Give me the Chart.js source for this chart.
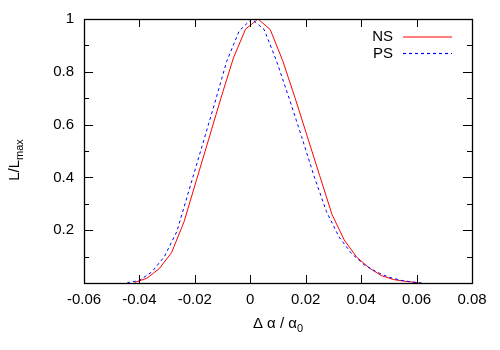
<!DOCTYPE html>
<html>
<head>
<meta charset="utf-8">
<script src="https://cdn.jsdelivr.net/npm/chart.js@4.4.0/dist/chart.umd.min.js"></script>
<style>
  html, body { margin: 0; padding: 0; background: #fff; }
</style>
</head>
<body>
<canvas id="likeChart" width="500" height="350"></canvas>
<script>
// NS run (red, solid)
const nsX = [-0.0417, -0.0373, -0.0328, -0.0284, -0.0239, -0.0195, -0.0150, -0.0106, -0.0061, -0.0017,
  0.0028, 0.0072, 0.0117, 0.0161, 0.0206, 0.0250, 0.0295, 0.0339, 0.0384, 0.0428, 0.0473, 0.0517, 0.0562, 0.0606];
const nsL = [0.002, 0.018, 0.055, 0.115, 0.232, 0.387, 0.545, 0.700, 0.852, 0.962,
  1.000, 0.960, 0.842, 0.703, 0.554, 0.408, 0.259, 0.163, 0.098, 0.058, 0.028, 0.013, 0.006, 0.001];

// PS run (blue, dashed)
const psX = [-0.0445, -0.0400, -0.0355, -0.0310, -0.0265, -0.0220, -0.0175, -0.0130, -0.0085, -0.0040,
  0.0005, 0.0050, 0.0095, 0.0140, 0.0185, 0.0230, 0.0275, 0.0320, 0.0365, 0.0410, 0.0455, 0.0500, 0.0545, 0.0590, 0.0620];
const psL = [0.000, 0.010, 0.042, 0.100, 0.195, 0.355, 0.515, 0.675, 0.840, 0.955,
  1.000, 0.960, 0.840, 0.700, 0.555, 0.405, 0.270, 0.175, 0.112, 0.070, 0.042, 0.022, 0.010, 0.003, 0.000];

const xTickValues = [-0.06, -0.04, -0.02, 0, 0.02, 0.04, 0.06, 0.08];
const xTickLabels = ['-0.06', '-0.04', '-0.02', '0', '0.02', '0.04', '0.06', '0.08'];
const yTickValues = [0, 0.1, 0.2, 0.3, 0.4, 0.5, 0.6, 0.7, 0.8, 0.9, 1];
const yTickLabels = ['', '', '0.2', '', '0.4', '', '0.6', '', '0.8', '', '1'];

const FONT = '"Liberation Sans", Arial, Helvetica, sans-serif';
const NS_COLOR = '#ff0000';
const PS_COLOR = '#0000ff';

function toPoints(xs, ys) {
  return xs.map((x, i) => ({ x, y: ys[i] }));
}

// draws the gnuplot style box, inward ticks, legend and axis titles
const gnuplotFrame = {
  id: 'gnuplotFrame',
  afterDatasetsDraw(chart) {
    const { ctx, chartArea: a, scales: { x, y } } = chart;
    ctx.save();
    ctx.strokeStyle = '#000';
    ctx.lineWidth = 1;
    ctx.beginPath();
    xTickValues.forEach(v => {
      const px = Math.round(x.getPixelForValue(v)) + 0.5;
      ctx.moveTo(px, a.bottom); ctx.lineTo(px, a.bottom - 8);
      ctx.moveTo(px, a.top); ctx.lineTo(px, a.top + 8);
    });
    yTickValues.forEach((v, i) => {
      const py = Math.round(y.getPixelForValue(v)) + 0.5;
      const len = yTickLabels[i] ? 9 : 5;
      ctx.moveTo(a.left, py); ctx.lineTo(a.left + len, py);
      ctx.moveTo(a.right, py); ctx.lineTo(a.right - len, py);
    });
    ctx.stroke();
    ctx.lineWidth = 1.3;
    ctx.strokeRect(a.left + 0.5, a.top + 0.5, a.right - a.left, a.bottom - a.top);
    ctx.restore();
  },
  afterDraw(chart) {
    const { ctx, chartArea: a } = chart;
    ctx.save();
    ctx.fillStyle = '#000';

    // legend
    ctx.font = '15px ' + FONT;
    ctx.textAlign = 'right';
    ctx.textBaseline = 'middle';
    const keys = [
      { text: 'NS', color: NS_COLOR, dash: [], y: 37 },
      { text: 'PS', color: PS_COLOR, dash: [3, 3], y: 53.5 }
    ];
    keys.forEach(k => {
      ctx.fillStyle = '#000';
      ctx.fillText(k.text, 393, k.y);
      ctx.strokeStyle = k.color;
      ctx.lineWidth = 1.2;
      ctx.setLineDash(k.dash);
      ctx.beginPath();
      ctx.moveTo(403, k.y);
      ctx.lineTo(452, k.y);
      ctx.stroke();
    });
    ctx.setLineDash([]);
    ctx.fillStyle = '#000';

    // x title: Δ α / α0
    ctx.textAlign = 'left';
    ctx.textBaseline = 'alphabetic';
    const main = 'Δ α / α';
    ctx.font = '15px ' + FONT;
    const wMain = ctx.measureText(main).width;
    ctx.font = '11px ' + FONT;
    const wSub = ctx.measureText('0').width;
    const cx = (a.left + a.right) / 2;
    let sx = cx - (wMain + wSub) / 2;
    ctx.font = '15px ' + FONT;
    ctx.fillText(main, sx, 328);
    ctx.font = '11px ' + FONT;
    ctx.fillText('0', sx + wMain, 332);

    // y title: L/Lmax
    ctx.translate(19, 160);
    ctx.rotate(-Math.PI / 2);
    ctx.font = '15px ' + FONT;
    const wL = ctx.measureText('L/L').width;
    ctx.font = '11px ' + FONT;
    const wMax = ctx.measureText('max').width;
    sx = -(wL + wMax) / 2;
    ctx.font = '15px ' + FONT;
    ctx.fillText('L/L', sx, 0);
    ctx.font = '11px ' + FONT;
    ctx.fillText('max', sx + wL, 4);
    ctx.restore();
  }
};

Chart.defaults.font.family = FONT;
Chart.defaults.font.size = 15;
Chart.defaults.color = '#000';

const ctx = document.getElementById('likeChart').getContext('2d');
new Chart(ctx, {
  type: 'scatter',
  data: {
    datasets: [
      {
        label: 'NS',
        data: toPoints(nsX, nsL),
        showLine: true,
        borderColor: NS_COLOR,
        borderWidth: 1,
        pointRadius: 0,
        order: 2
      },
      {
        label: 'PS',
        data: toPoints(psX, psL),
        showLine: true,
        borderColor: PS_COLOR,
        borderWidth: 1,
        borderDash: [3, 3],
        pointRadius: 0,
        order: 1
      }
    ]
  },
  options: {
    responsive: false,
    animation: false,
    devicePixelRatio: 1,
    layout: { padding: { top: 19, right: 28, bottom: 0, left: 0 } },
    plugins: {
      legend: { display: false },
      tooltip: { enabled: false }
    },
    scales: {
      x: {
        type: 'linear',
        min: -0.06,
        max: 0.08,
        afterBuildTicks: s => { s.ticks = xTickValues.map(v => ({ value: v })); },
        afterFit: s => { s.height = 67; },
        ticks: {
          callback: (v, i) => xTickLabels[i],
          padding: 8,
          maxRotation: 0,
          autoSkip: false
        },
        grid: { display: false, drawTicks: false },
        border: { display: false }
      },
      y: {
        type: 'linear',
        min: 0,
        max: 1,
        afterBuildTicks: s => { s.ticks = yTickValues.map(v => ({ value: v })); },
        afterFit: s => { s.width = 84; },
        ticks: {
          callback: (v, i) => yTickLabels[i],
          padding: 10,
          autoSkip: false
        },
        grid: { display: false, drawTicks: false },
        border: { display: false }
      }
    }
  },
  plugins: [gnuplotFrame]
});
</script>
</body>
</html>
